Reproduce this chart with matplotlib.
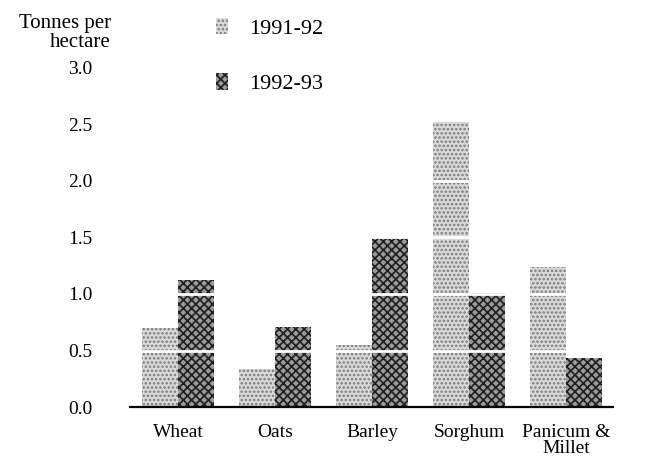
import matplotlib
matplotlib.use('Agg')
import matplotlib.pyplot as plt
import numpy as np
from matplotlib.patches import Patch

# data (tonnes per hectare)
crops = ["Wheat", "Oats", "Barley", "Sorghum", "Panicum &\nMillet"]
yield_9192 = [0.70, 0.34, 0.55, 2.52, 1.24]
yield_9293 = [1.12, 0.71, 1.50, 1.01, 0.43]
series = ["1991-92", "1992-93"]
yticks = [0.0, 0.5, 1.0, 1.5, 2.0, 2.5, 3.0]

plt.rcParams['font.family'] = ['Liberation Serif', 'DejaVu Serif']
plt.rcParams['hatch.linewidth'] = 1.2

fig = plt.figure(figsize=(6.57, 4.62), dpi=100)
ax = fig.add_axes([0.198, 0.119, 0.735, 0.734])

x = np.arange(len(crops))
w = 0.37
light = dict(facecolor='#d9d9d9', edgecolor='#7a7a7a', hatch='....', lw=0)
dark = dict(facecolor='#9a9a9a', edgecolor='#1e1e1e', hatch='xxxx', lw=0)
ax.bar(x - w / 2, yield_9192, w, zorder=2, **light)
ax.bar(x + w / 2, yield_9293, w, zorder=2, **dark)

# white rules through the bars
for g in yticks[1:-2]:
    ax.axhline(g, color='white', lw=2.0, zorder=3)

ax.set_xlim(-0.495, 4.48)
ax.set_ylim(0, 3.0)
ax.set_yticks(yticks)
ax.set_yticklabels([f"{v:.1f}" for v in yticks])
ax.set_xticks(x)
ax.set_xticklabels(crops, linespacing=0.95)
ax.tick_params(axis='y', length=0, pad=27, labelsize=14)
ax.tick_params(axis='x', length=0, pad=12, labelsize=14)
for s in ['top', 'right', 'left']:
    ax.spines[s].set_visible(False)
ax.spines['bottom'].set_linewidth(1.6)
ax.spines['bottom'].set_zorder(4)

fig.text(111 / 657, 1 - 14 / 462, "Tonnes per\nhectare", ha='right', va='top',
         multialignment='right', fontsize=15, linespacing=1.0)

handles = [Patch(**light), Patch(**dark)]
fig.legend(handles, series, loc='upper left', bbox_to_anchor=(216 / 657, 1 - 18 / 462),
           frameon=False, fontsize=16, handlelength=0.55, handleheight=0.75,
           handletextpad=0.95, labelspacing=1.55, borderpad=0, borderaxespad=0)

fig.savefig("out.png", dpi=100)
